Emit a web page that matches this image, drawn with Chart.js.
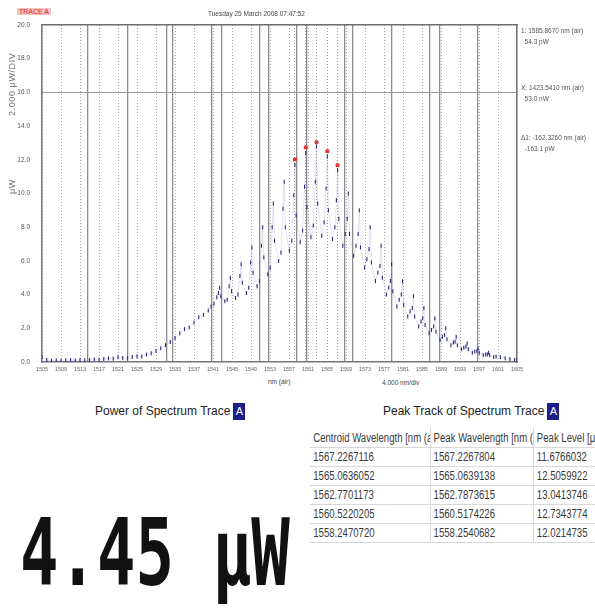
<!DOCTYPE html>
<html lang="en">
<head>
<meta charset="UTF-8">
<title>Spectrum Trace A</title>
<script src="https://cdn.jsdelivr.net/npm/chart.js"></script>
<style>
  body { margin: 0; background: #fff; width: 595px; height: 611px; overflow: hidden; position: relative; font-family: "Liberation Sans", sans-serif; color: #333; }
  .abs { position: absolute; white-space: nowrap; }
  #chartBox { position: absolute; left: 0; top: 0; width: 595px; height: 374px; }
  .tag { color: #e02020; background: #f6c4c4; font-size: 7px; padding: 0 2px; }
  .tiny { font-size: 6.5px; color: #444; }
  .note { font-size: 6.5px; color: #555; line-height: 11px; }
  .rot { transform: rotate(-90deg); transform-origin: left top; font-size: 9px; color: #777; letter-spacing: 0.6px; }
  .head { font-size: 12px; color: #222; }
  .boxA { display: inline-block; background: #1c1c8a; color: #fff; width: 12px; height: 17px; line-height: 17px; text-align: center; font-size: 11px; vertical-align: middle; margin-left: 3px; }
  #tableWrap { transform: scaleX(0.8); transform-origin: left top; }
  table { border-collapse: collapse; table-layout: fixed; width: 379px; font-size: 12px; color: #3a3a3a; }
  td { border-bottom: 1px solid #d8d8d8; border-right: 1px solid #d0d0d0; height: 18px; padding: 0 0 0 4px; overflow: hidden; white-space: nowrap; }
  tr:first-child td { height: 19px; }
  .big { font-family: "DejaVu Sans Mono", monospace; font-weight: bold; font-size: 64px; line-height: 64px; transform: scaleY(1.45); transform-origin: left top; color: #111; }
</style>
</head>
<body>
<div id="chartBox"><canvas id="spectrum"></canvas></div>

<div class="abs tag" style="left:17px; top:8px;">TRACE A</div>
<div class="abs tiny" style="left:208px; top:10px;">Tuesday 25 March 2008 07:47:52</div>

<div class="abs rot" style="left:7px; top:116px;">2.000 μW/DIV</div>
<div class="abs rot" style="left:7px; top:194px;">μW</div>

<div class="abs note" style="left:521px; top:25px;">1: 1585.8670 nm (air)<br>&nbsp;&nbsp;54.3 pW</div>
<div class="abs note" style="left:521px; top:82px;">X: 1423.5410 nm (air)<br>&nbsp;&nbsp;53.0 nW</div>
<div class="abs note" style="left:521px; top:132px;">Δ1: -162.3260 nm (air)<br>&nbsp;&nbsp;-163.1 pW</div>

<div class="abs tiny" style="left:268px; top:378px;">nm (air)</div>
<div class="abs tiny" style="left:382px; top:379px;">4.000 nm/div</div>

<div class="abs head" style="left:95px; top:403px;">Power of Spectrum Trace<span class="boxA">A</span></div>
<div class="abs head" style="left:383px; top:403px;">Peak Track of Spectrum Trace<span class="boxA">A</span></div>

<div class="abs" style="left:310px; top:428px; width:285px; overflow:hidden;">
  <div id="tableWrap"><table id="peakTable"></table></div>
</div>

<div class="abs big" id="totalPower" style="left:20px; top:507px;"></div>

<script>
// spectrum trace A (nm, μW)
const wavelengthNm = [
  1505, 1506, 1507, 1508, 1509, 1510, 1511, 1512, 1513, 1514,
  1515, 1516, 1517, 1518, 1519, 1520, 1521, 1522, 1523, 1524,
  1525, 1526, 1527, 1528, 1529, 1530, 1531, 1532, 1533, 1534,
  1535, 1536, 1537, 1538, 1539, 1540.0, 1540.6, 1541.2, 1541.8,
  1542.14, 1542.39, 1542.64, 1543.49, 1543.99,
  1544.40, 1544.65, 1544.90, 1545.75, 1546.25,
  1546.67, 1546.92, 1547.17, 1548.02, 1548.52,
  1548.93, 1549.18, 1549.43, 1550.28, 1550.78,
  1551.20, 1551.45, 1551.70, 1552.55, 1553.05,
  1553.46, 1553.71, 1553.96, 1554.81, 1555.31,
  1555.73, 1555.98, 1556.23, 1557.08, 1557.58,
  1558.00, 1558.25, 1558.50, 1559.35, 1559.85,
  1560.27, 1560.52, 1560.77, 1561.62, 1562.12,
  1562.54, 1562.79, 1563.04, 1563.89, 1564.39,
  1564.81, 1565.06, 1565.31, 1566.16, 1566.66,
  1566.98, 1567.23, 1567.48, 1568.33, 1568.83,
  1569.25, 1569.50, 1569.75, 1570.60, 1571.10,
  1571.55, 1571.80, 1572.05, 1572.90, 1573.40,
  1573.85, 1574.10, 1574.35, 1575.20, 1575.70,
  1576.15, 1576.40, 1576.65, 1577.50, 1578.00,
  1578.35, 1578.60, 1578.85, 1579.70, 1580.20,
  1580.65, 1580.90, 1581.15, 1582.00, 1582.50,
  1582.95, 1583.20, 1583.45, 1584.30, 1584.80,
  1585.15, 1585.40, 1585.65, 1586.50, 1587.00,
  1587.45, 1587.70, 1587.95, 1588.80, 1589.30,
  1589.75, 1590.00, 1590.25, 1591.10, 1591.60,
  1591.95, 1592.20, 1592.45, 1593.30, 1593.80,
  1594.25, 1594.50, 1594.75, 1595.60, 1596.10,
  1596.55, 1596.80, 1597.05, 1597.90, 1598.40,
  1598.75, 1599.00, 1599.25, 1600.10, 1600.60,
  1601.5, 1602.5, 1603.5, 1604.5, 1605
];
const powerUW = [
  0.30, 0.12, 0.08, 0.10, 0.07, 0.10, 0.12, 0.09, 0.12, 0.10,
  0.12, 0.15, 0.13, 0.18, 0.22, 0.19, 0.28, 0.24, 0.22, 0.30,
  0.34, 0.32, 0.44, 0.52, 0.66, 0.82, 1.00, 1.18, 1.42, 1.70,
  1.95, 2.05, 2.35, 2.65, 2.80, 3.05, 3.30, 3.45, 3.85,
  4.1, 4.4, 3.9, 3.6, 3.7,
  4.5, 5.0, 4.2, 3.8, 4.0,
  5.1, 5.8, 4.7, 4.1, 4.4,
  5.9, 6.8, 5.3, 4.5, 4.8,
  6.9, 8.0, 6.2, 5.2, 5.6,
  8.0, 9.4, 7.2, 6.0, 6.5,
  9.1, 10.7, 8.0, 6.6, 7.2,
  9.9, 11.7, 8.7, 7.1, 7.8,
  10.4, 12.4, 9.2, 7.4, 8.1,
  10.7, 12.8, 9.4, 7.5, 8.3,
  10.3, 12.2, 9.0, 7.3, 8.0,
  9.6, 11.4, 8.5, 6.9, 7.6,
  8.5, 10.0, 7.6, 6.3, 6.9,
  7.6, 9.0, 6.8, 5.6, 6.1,
  6.7, 8.0, 5.9, 4.8, 5.3,
  5.7, 6.9, 5.0, 4.0, 4.4,
  4.8, 5.8, 4.2, 3.3, 3.7,
  4.0, 4.8, 3.4, 2.7, 3.0,
  3.2, 3.9, 2.7, 2.1, 2.4,
  2.6, 3.2, 2.2, 1.7, 1.9,
  2.1, 2.6, 1.8, 1.3, 1.5,
  1.6, 2.0, 1.35, 1.0, 1.15,
  1.2, 1.5, 1.0, 0.75, 0.85,
  0.9, 1.1, 0.75, 0.55, 0.62,
  0.65, 0.8, 0.55, 0.4, 0.45,
  0.45, 0.55, 0.4, 0.3, 0.33,
  0.28, 0.22, 0.18, 0.14, 0.12
];

// peak track table
const centroidWavelengthNm = ["1567.2267116", "1565.0636052", "1562.7701173", "1560.5220205", "1558.2470720"];
const peakWavelengthNm = ["1567.2267804", "1565.0639138", "1562.7873615", "1560.5174226", "1558.2540682"];
const peakLevelUW = ["11.6766032", "12.5059922", "13.0413746", "12.7343774", "12.0214735"];
const tableHeaders = ["Centroid Wavelength [nm (air)]", "Peak Wavelength [nm (air)]", "Peak Level [μW]"];
const totalPower = "4.45 μW";

// axes
const xTickNm = [1505, 1509, 1513, 1517, 1521, 1525, 1529, 1533, 1537, 1541, 1545, 1549, 1553,
  1557, 1561, 1565, 1569, 1573, 1577, 1581, 1585, 1589, 1593, 1597, 1601, 1605];
const yTickUW = [0, 2, 4, 6, 8, 10, 12, 14, 16, 18, 20];
const markerLineNm = [1514.7, 1523.1, 1531.3, 1532.6, 1540.8, 1542.9, 1550.9, 1552.8, 1558.7,
  1560.8, 1568.8, 1570.5, 1578.7, 1586.7, 1588.8, 1596.8];
const markerLevelUW = [16];

// build the table
const colWidths = [150, 129, 100];
let html = "<colgroup>" + colWidths.map((w) => `<col style="width:${w}px">`).join("") + "</colgroup>";
html += "<tr>" + tableHeaders.map((h) => `<td>${h}</td>`).join("") + "</tr>";
centroidWavelengthNm.forEach((c, i) => {
  html += `<tr><td>${c}</td><td>${peakWavelengthNm[i]}</td><td>${peakLevelUW[i]}</td></tr>`;
});
document.getElementById("peakTable").innerHTML = html;
document.getElementById("totalPower").textContent = totalPower;

const setTicks = (values) => (axis) => { axis.ticks = values.map((v) => ({ value: v })); };
const small = { family: "Liberation Sans, sans-serif", size: 5.5 };

new Chart(document.getElementById("spectrum"), {
  type: "scatter",
  data: {
    datasets: [
      {
        label: "Peaks",
        data: peakWavelengthNm.map((w, i) => ({ x: +w, y: +peakLevelUW[i] })),
        pointStyle: "rect",
        pointRadius: 2,
        backgroundColor: "#e23030",
        borderColor: "#e23030",
        showLine: false,
      },
      {
        label: "Trace A",
        data: wavelengthNm.map((w, i) => ({ x: w, y: powerUW[i] })),
        showLine: true,
        borderColor: "rgba(100,100,180,0.25)",
        borderWidth: 0.7,
        pointStyle: "line",
        rotation: 90,
        pointRadius: 2,
        pointBorderWidth: 1.1,
        pointBorderColor: "#2a2a80",
        pointBackgroundColor: "#2a2a80",
      },
    ],
  },
  options: {
    responsive: true,
    maintainAspectRatio: false,
    animation: false,
    layout: { padding: { left: 0, right: 78, top: 25, bottom: 0 } },
    plugins: { legend: { display: false }, tooltip: { enabled: false } },
    scales: {
      x: {
        min: 1505, max: 1605,
        afterBuildTicks: setTicks(xTickNm),
        afterFit: (s) => { s.height = 12; },
        ticks: { autoSkip: false, maxRotation: 0, padding: 4, font: small, color: "#666", callback: (v) => String(v) },
        grid: { color: "#a8a8a8", lineWidth: 1, drawTicks: false },
        border: { display: true, color: "#777", width: 1.5, dash: [1, 2] },
      },
      xMarks: {
        type: "linear", position: "bottom", min: 1505, max: 1605,
        afterBuildTicks: setTicks(markerLineNm),
        ticks: { display: false },
        grid: { color: "#8c8c8c", lineWidth: 1.3, drawTicks: false },
        border: { display: false },
      },
      xPeaks: {
        type: "linear", position: "bottom", min: 1505, max: 1605,
        afterBuildTicks: setTicks(peakWavelengthNm.map(Number)),
        ticks: { display: false },
        grid: { color: "#a0a0a0", lineWidth: 1, drawTicks: false },
        border: { display: false, dash: [1, 2] },
      },
      xTop: {
        type: "linear", position: "top", min: 1505, max: 1605,
        ticks: { display: false },
        grid: { display: false, drawTicks: false },
        border: { display: true, color: "#6e6e6e", width: 1.5 },
      },
      y: {
        min: 0, max: 20,
        afterBuildTicks: setTicks(yTickUW),
        afterFit: (s) => { s.width = 42; },
        ticks: { padding: 4, font: { ...small, size: 6.5 }, color: "#555", callback: (v) => v.toFixed(1) },
        grid: { display: false },
        border: { display: true, color: "#777", width: 1.5 },
      },
      yRight: {
        type: "linear", position: "right", min: 0, max: 20,
        afterBuildTicks: setTicks(markerLevelUW),
        ticks: { display: false },
        grid: { color: "#9a9a9a", lineWidth: 1, drawTicks: false },
        border: { display: true, color: "#777", width: 1.5 },
      },
    },
  },
});
</script>
</body>
</html>
